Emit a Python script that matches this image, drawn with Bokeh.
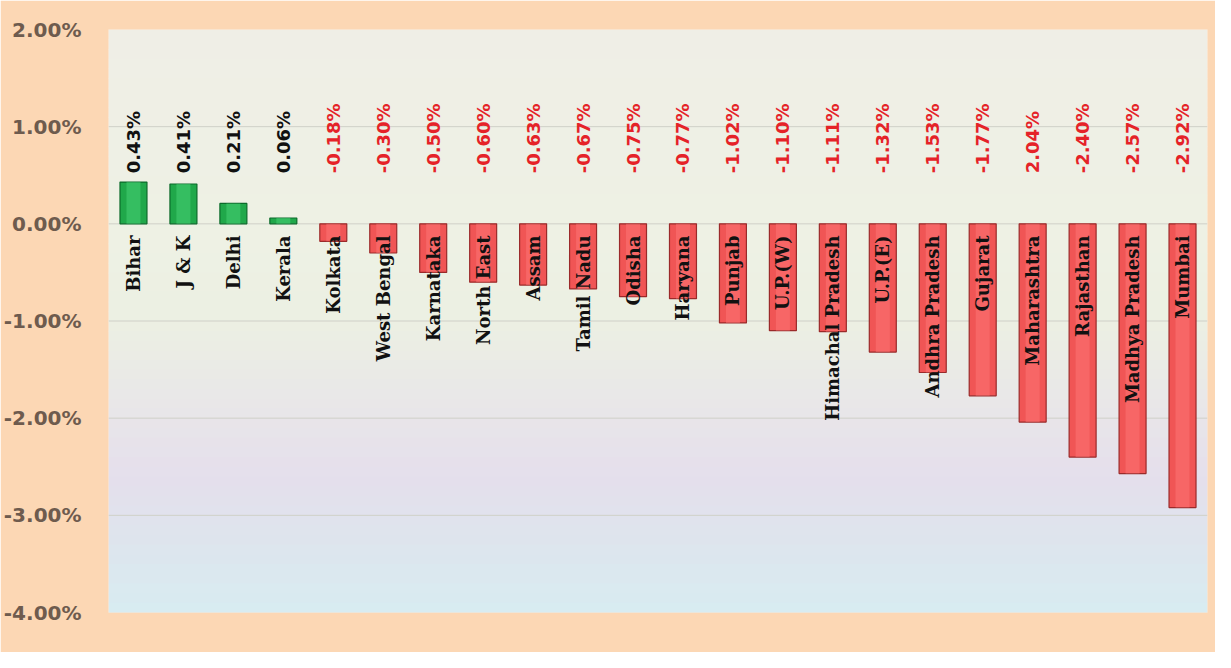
from bokeh.plotting import figure
from bokeh.models import ColumnDataSource, FactorRange, BoxAnnotation, Span, FixedTicker, CustomJSTickFormatter
from bokeh.core.properties import value
from bokeh.embed import file_html
from bokeh.resources import INLINE
import math

categories = ["Bihar", "J & K", "Delhi", "Kerala", "Kolkata", "West Bengal", "Karnataka",
              "North East", "Assam", "Tamil Nadu", "Odisha", "Haryana", "Punjab", "U.P.(W)",
              "Himachal Pradesh", "U.P.(E)", "Andhra Pradesh", "Gujarat", "Maharashtra",
              "Rajasthan", "Madhya Pradesh", "Mumbai"]
values = [0.43, 0.41, 0.21, 0.06, -0.18, -0.30, -0.50, -0.60, -0.63, -0.67, -0.75, -0.77,
          -1.02, -1.10, -1.11, -1.32, -1.53, -1.77, -2.04, -2.40, -2.57, -2.92]
value_labels = ["0.43%", "0.41%", "0.21%", "0.06%", "-0.18%", "-0.30%", "-0.50%", "-0.60%",
                "-0.63%", "-0.67%", "-0.75%", "-0.77%", "-1.02%", "-1.10%", "-1.11%", "-1.32%",
                "-1.53%", "-1.77%", "2.04%", "-2.40%", "-2.57%", "-2.92%"]
y_ticks = [-4, -3, -2, -1, 0, 1, 2]

fills = ["#20a84a" if v >= 0 else "#f05555" for v in values]
lines = ["#0b6a2a" if v >= 0 else "#9a2a2a" for v in values]
glows = ["#4fd97f" if v >= 0 else "#ff7d7d" for v in values]
lab_colors = ["#111111" if v >= 0 else "#e52228" for v in values]

src = ColumnDataSource(dict(cat=categories, val=values, lab=value_labels,
                            fill=fills, line=lines, glow=glows, lcol=lab_colors,
                            ylab=[0.52] * len(categories), ycat=[-0.12] * len(categories)))

p = figure(width=1215, height=652, x_range=FactorRange(*categories, range_padding=0),
           y_range=(-4, 2), output_backend="svg", toolbar_location=None,
           background_fill_color="#fcd7b4", border_fill_color="#fcd7b4",
           min_border_left=105, min_border_right=8, min_border_top=29, min_border_bottom=40)
p.outline_line_color = None
p.xaxis.visible = False
p.xgrid.visible = False
p.ygrid.visible = False

# gradient plot-area background
stops = [(2.0, (239, 238, 230)), (0.0, (238, 241, 228)), (-1.0, (236, 240, 227)),
         (-2.0, (232, 229, 233)), (-2.6, (229, 223, 236)), (-3.2, (222, 228, 237)),
         (-4.0, (216, 236, 241))]
def col_at(y):
    for (y0, c0), (y1, c1) in zip(stops, stops[1:]):
        if y1 <= y <= y0:
            t = (y0 - y) / (y0 - y1)
            return "#%02x%02x%02x" % tuple(int(round(a + (b - a) * t)) for a, b in zip(c0, c1))
    return "#%02x%02x%02x" % stops[-1][1]
n = 60
for i in range(n):
    top = 2 - 6 * i / n
    bot = 2 - 6 * (i + 1) / n
    p.add_layout(BoxAnnotation(top=top, bottom=bot - 0.01, fill_color=col_at((top + bot) / 2),
                               fill_alpha=1, line_color=None, level="underlay"))
for t in y_ticks[1:-1]:
    p.add_layout(Span(location=t, dimension="width", line_color="#cfd0c8", line_width=1,
                      level="underlay"))

p.vbar(x="cat", top="val", bottom=0, width=0.54, source=src,
       fill_color="fill", line_color="line", line_width=1.2)
p.vbar(x="cat", top="val", bottom=0, width=0.28, source=src,
       fill_color="glow", fill_alpha=0.45, line_color=None)

p.text(x="cat", y="ylab", text="lab", source=src, angle=math.pi / 2,
       text_align="left", text_baseline="middle", text_color="lcol",
       text_font=value("DejaVu Sans"), text_font_style="bold", text_font_size="18px")
p.text(x="cat", y="ycat", text="cat", source=src, angle=math.pi / 2,
       text_align="right", text_baseline="middle", text_color="#111111",
       text_font=value("DejaVu Serif"), text_font_style="bold", text_font_size="18px")

p.yaxis.ticker = FixedTicker(ticks=y_ticks)
p.yaxis.formatter = CustomJSTickFormatter(code="return tick.toFixed(2) + '%';")
p.yaxis.axis_line_color = None
p.yaxis.major_tick_line_color = None
p.yaxis.minor_tick_line_color = None
p.yaxis.major_label_standoff = 21
p.yaxis.major_label_text_font = "DejaVu Sans"
p.yaxis.major_label_text_font_style = "bold"
p.yaxis.major_label_text_font_size = "20px"
p.yaxis.major_label_text_color = "#6e5b4e"

open("out.html", "w").write(file_html(p, INLINE))
